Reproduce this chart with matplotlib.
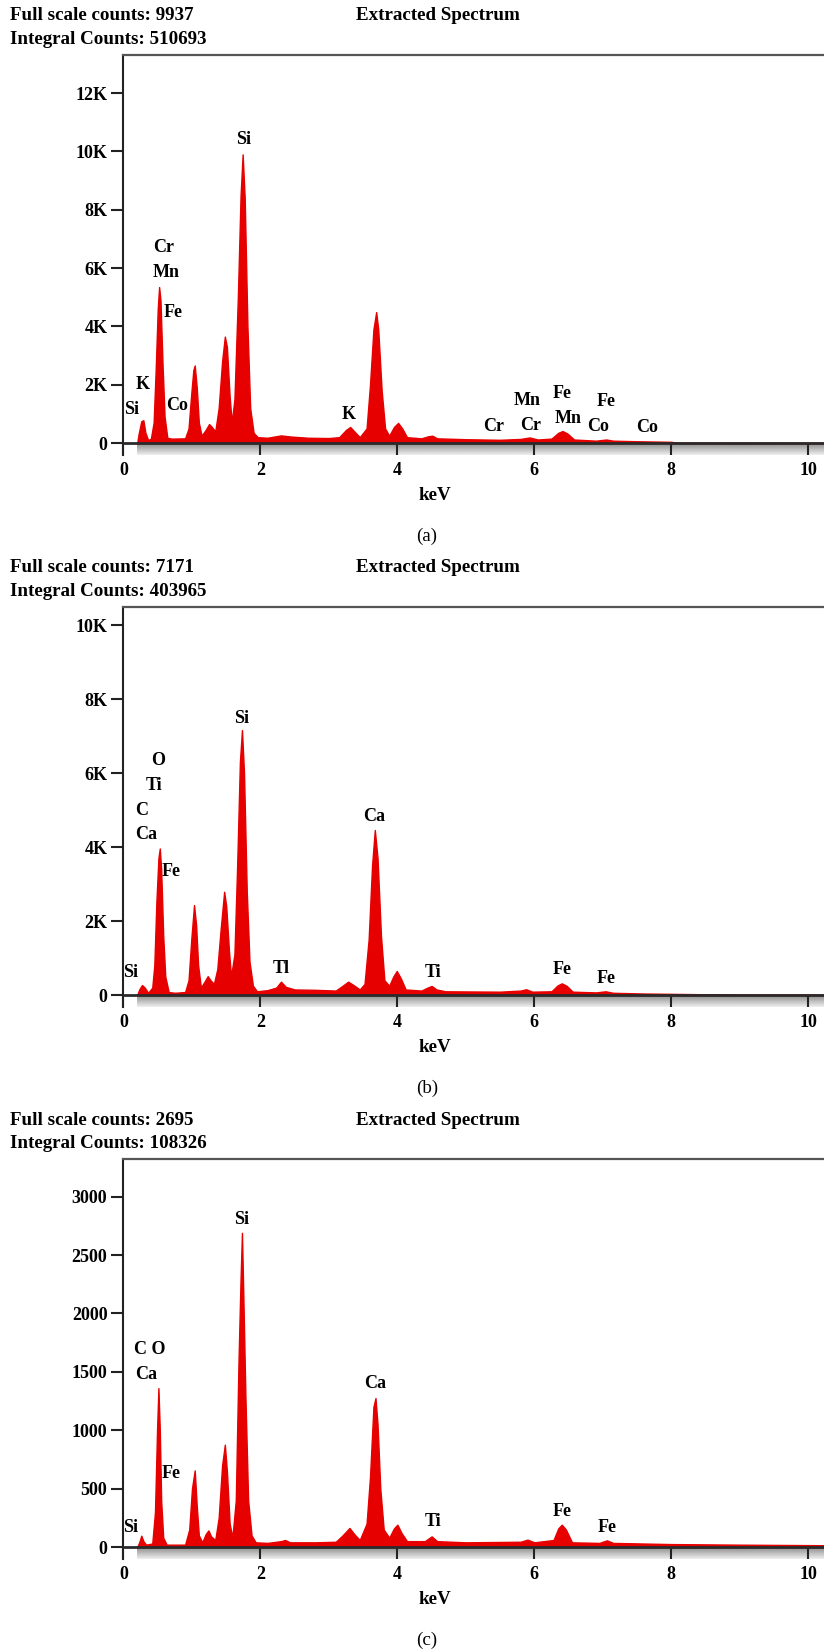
import numpy as np
import matplotlib.pyplot as plt

plt.rcParams['font.family'] = ['Liberation Serif', 'DejaVu Serif']
plt.rcParams['font.weight'] = 'bold'

# ---- data ----
keV_ticks = [0, 2, 4, 6, 8, 10]

# panel (a)
header_a = ['Full scale counts: 9937', 'Integral Counts: 510693']
energy_a = [0.20, 0.22, 0.26, 0.29, 0.32, 0.36, 0.40, 0.44, 0.47, 0.50, 0.52, 0.54, 0.57,
            0.60, 0.64, 0.70, 0.90, 0.95, 0.99, 1.02, 1.04, 1.07, 1.10, 1.14, 1.20, 1.25,
            1.29, 1.34, 1.39, 1.44, 1.48, 1.51, 1.55, 1.58, 1.62, 1.67, 1.71, 1.74, 1.77,
            1.81, 1.85, 1.90, 1.96, 2.10, 2.30, 2.45, 2.70, 3.00, 3.15, 3.25, 3.31, 3.37,
            3.45, 3.55, 3.60, 3.65, 3.69, 3.72, 3.77, 3.82, 3.88, 3.95, 4.01, 4.07, 4.14,
            4.35, 4.45, 4.51, 4.58, 5.00, 5.50, 5.80, 5.93, 6.05, 6.25, 6.35, 6.41, 6.48,
            6.58, 6.90, 7.05, 7.15, 7.50, 8.00, 8.10, 10.3]
counts_a = [0, 300, 750, 780, 350, 100, 150, 700, 2500, 4600, 5350, 4900, 2700,
            900, 180, 150, 160, 500, 1700, 2500, 2660, 1900, 700, 250, 450, 650,
            550, 400, 1200, 2800, 3650, 3300, 1600, 700, 1500, 5000, 8500, 9900, 8400,
            4000, 1200, 350, 200, 180, 260, 220, 180, 170, 200, 450, 550, 400,
            200, 500, 2000, 3900, 4490, 3900, 1800, 500, 250, 550, 690, 500, 200,
            160, 230, 250, 160, 130, 110, 140, 190, 120, 150, 350, 410, 330,
            120, 80, 120, 80, 60, 40, 5, 0]
yticks_a = [0, 2000, 4000, 6000, 8000, 10000, 12000]
ylabels_a = ['0', '2K', '4K', '6K', '8K', '10K', '12K']
peak_text_a = ['Si', 'Cr', 'Mn', 'Fe', 'K', 'Si', 'Co', 'K', 'Cr', 'Mn', 'Cr',
               'Fe', 'Mn', 'Co', 'Fe', 'Co']
peak_x_a = [1.75, 0.58, 0.625, 0.72, 0.28, 0.117, 0.78, 3.29, 5.41, 5.89, 5.95,
            6.40, 6.50, 6.93, 7.05, 7.65]
peak_y_a = [10400, 6700, 5840, 4470, 1990, 1160, 1300, 990, 583, 1450, 617,
            1700, 847, 583, 1417, 538]

# panel (b)
header_b = ['Full scale counts: 7171', 'Integral Counts: 403965']
energy_b = [0.20, 0.23, 0.27, 0.31, 0.36, 0.42, 0.45, 0.48, 0.51, 0.53, 0.55, 0.58,
            0.61, 0.66, 0.75, 0.90, 0.95, 0.99, 1.03, 1.06, 1.09, 1.13, 1.19, 1.23,
            1.27, 1.32, 1.37, 1.42, 1.47, 1.50, 1.54, 1.57, 1.62, 1.66, 1.70, 1.73,
            1.76, 1.80, 1.84, 1.89, 1.95, 2.10, 2.23, 2.30, 2.37, 2.50, 2.80, 3.10,
            3.20, 3.28, 3.35, 3.45, 3.52, 3.58, 3.63, 3.67, 3.71, 3.76, 3.81, 3.88,
            3.94, 3.99, 4.05, 4.12, 4.35, 4.44, 4.50, 4.57, 4.70, 5.50, 5.80, 5.88,
            5.97, 6.25, 6.34, 6.40, 6.47, 6.56, 6.90, 7.04, 7.15, 7.60, 8.50, 9.00, 10.3]
counts_b = [0, 150, 270, 200, 60, 200, 800, 2500, 3700, 3960, 3400, 1600,
            500, 80, 60, 80, 400, 1500, 2430, 1900, 800, 200, 380, 510,
            400, 300, 700, 1800, 2790, 2400, 1200, 500, 1100, 3500, 6300, 7160,
            6000, 2800, 900, 250, 100, 130, 200, 360, 220, 150, 140, 120,
            250, 360, 280, 150, 300, 1500, 3500, 4460, 3700, 1600, 400, 250,
            500, 650, 450, 150, 120, 200, 245, 150, 100, 90, 120, 155,
            90, 100, 260, 315, 250, 90, 70, 100, 60, 40, 20, 10, 5]
yticks_b = [0, 2000, 4000, 6000, 8000, 10000]
ylabels_b = ['0', '2K', '4K', '6K', '8K', '10K']
peak_text_b = ['Si', 'O', 'Ti', 'C', 'Ca', 'Fe', 'Si', 'Tl', 'Ca', 'Ti', 'Fe', 'Fe']
peak_x_b = [1.73, 0.50, 0.44, 0.26, 0.33, 0.70, 0.11, 2.30, 3.66, 4.52, 6.40, 7.05]
peak_y_b = [7480, 6333, 5650, 4983, 4325, 3333, 603, 721, 4820, 603, 694, 450]

# panel (c)
header_c = ['Full scale counts: 2695', 'Integral Counts: 108326']
energy_c = [0.20, 0.23, 0.26, 0.29, 0.33, 0.42, 0.46, 0.49, 0.51, 0.53, 0.55, 0.58,
            0.63, 0.90, 0.96, 1.00, 1.04, 1.07, 1.10, 1.15, 1.20, 1.24, 1.28, 1.34,
            1.39, 1.44, 1.48, 1.51, 1.55, 1.59, 1.64, 1.68, 1.71, 1.73, 1.75, 1.78,
            1.82, 1.87, 1.93, 2.10, 2.30, 2.36, 2.43, 2.80, 3.10, 3.20, 3.30, 3.37,
            3.45, 3.55, 3.60, 3.65, 3.68, 3.71, 3.75, 3.80, 3.88, 3.95, 4.00, 4.06,
            4.14, 4.40, 4.50, 4.58, 5.00, 5.80, 5.90, 6.00, 6.28, 6.35, 6.40, 6.46,
            6.55, 6.95, 7.06, 7.15, 8.00, 9.00, 10.3]
counts_c = [0, 40, 97, 50, 20, 30, 300, 1000, 1360, 1000, 400, 80,
            20, 20, 150, 500, 656, 350, 100, 40, 110, 142, 90, 60,
            250, 700, 876, 650, 200, 80, 400, 1600, 2300, 2690, 2150, 1300,
            400, 100, 40, 35, 50, 60, 40, 40, 45, 100, 163, 110,
            60, 200, 600, 1200, 1275, 1050, 500, 150, 80, 160, 191, 120,
            50, 50, 91, 50, 40, 45, 63, 40, 60, 160, 191, 150,
            40, 35, 57, 35, 25, 20, 15]
yticks_c = [0, 500, 1000, 1500, 2000, 2500, 3000]
ylabels_c = ['0', '500', '1000', '1500', '2000', '2500', '3000']
peak_text_c = ['Si', 'C O', 'Ca', 'Fe', 'Si', 'Ca', 'Ti', 'Fe', 'Fe']
peak_x_c = [1.73, 0.38, 0.33, 0.70, 0.10, 3.68, 4.52, 6.41, 7.06]
peak_y_c = [2802, 1689, 1475, 633, 163, 1398, 219, 305, 168]

# ---- layout (pixels of the 824x1651 figure) ----
W, H = 824, 1651
LEFT = 123.5
XMAX = 10.23
RED = '#e60000'

fig = plt.figure(figsize=(W / 100, H / 100), dpi=100)


def panel(top, zero, per_px, energy, counts, yticks, ylabels,
          ptext, px, py, header, tag):
    band = 12
    ax = fig.add_axes([LEFT / W, 1 - (zero + band) / H, (W - LEFT) / W,
                       (zero + band - top) / H])
    ylo = -band * per_px
    yhi = (zero - top) * per_px

    grad = np.linspace(0.55, 0.93, 20).reshape(-1, 1)
    ax.imshow(grad, extent=[0.2, XMAX, ylo, 0], aspect='auto', cmap='gray',
              vmin=0, vmax=1, zorder=1, interpolation='bilinear')
    ax.fill_between(energy, counts, 0, color=RED, lw=1.0, zorder=2)
    ax.axhline(0, color='#2a2a2a', lw=2, zorder=3)

    ax.set_xlim(0, XMAX)
    ax.set_ylim(ylo, yhi)

    for s in ['right', 'bottom']:
        ax.spines[s].set_visible(False)
    ax.spines['left'].set_linewidth(1.5)
    ax.spines['left'].set_color('#222222')
    ax.spines['top'].set_linewidth(1.6)
    ax.spines['top'].set_color('#555555')

    ax.set_xticks(keV_ticks)
    ax.set_xticklabels([str(t) for t in keV_ticks])
    ax.set_yticks(yticks)
    ax.set_yticklabels(ylabels)
    ax.tick_params(axis='x', direction='in', length=8.6, width=1.5,
                   pad=5, labelsize=13, color='#222222')
    ax.tick_params(axis='y', direction='out', length=8.6, width=1.5,
                   pad=3, labelsize=13, color='#222222')

    for t, x, y in zip(ptext, px, py):
        ax.text(x, y, t, ha='center', va='center', fontsize=13,
                fontweight='bold')

    fig.text(10.5 / W, 1 - (top - 39) / H, header[0], ha='left', va='center',
             fontsize=13.7, fontweight='bold')
    fig.text(10.5 / W, 1 - (top - 16) / H, header[1], ha='left', va='center',
             fontsize=13.7, fontweight='bold')
    fig.text(356 / W, 1 - (top - 39) / H, 'Extracted Spectrum', ha='left',
             va='center', fontsize=13.7, fontweight='bold')
    fig.text(435 / W, 1 - (zero + 52) / H, 'keV', ha='center', va='center',
             fontsize=13.7, fontweight='bold')
    fig.text(427 / W, 1 - (zero + 93) / H, tag, ha='center', va='center',
             fontsize=13.7, fontweight='normal')
    return ax


panel(55, 443, 2000 / 58.3, energy_a, counts_a, yticks_a, ylabels_a,
      peak_text_a, peak_x_a, peak_y_a, header_a, '(a)')
panel(607, 995, 2000 / 74.0, energy_b, counts_b, yticks_b, ylabels_b,
      peak_text_b, peak_x_b, peak_y_b, header_b, '(b)')
panel(1159, 1547, 500 / 58.4, energy_c, counts_c, yticks_c, ylabels_c,
      peak_text_c, peak_x_c, peak_y_c, header_c, '(c)')

fig.savefig('out.png', dpi=100)
